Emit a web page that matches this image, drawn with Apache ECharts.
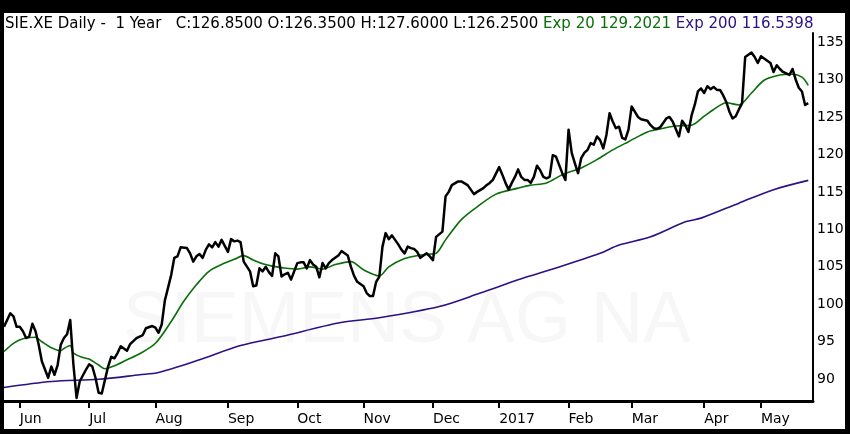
<!DOCTYPE html>
<html><head><meta charset="utf-8">
<script src="https://cdn.jsdelivr.net/npm/echarts@6/dist/echarts.min.js"></script>
<style>html,body{margin:0;padding:0;background:#000}#c{width:850px;height:434px}</style>
</head><body><div id="c"></div>
<script>
// trading-day index (0 = 25 May 2016) and daily closes
const priceDays = [0,2,3,4,5,6,7,8,9,10,11,12,14,15,16,17,18,19,20,21,22,23,24,26,27,28,29,30,31,32,33,34,35,36,37,39,40,42,44,45,47,48,49,50,51,52,53,54,55,56,58,59,60,61,62,63,64,65,66,67,68,69,70,71,72,73,74,75,76,78,79,80,81,82,83,84,85,86,87,88,89,90,91,93,94,95,96,97,98,99,100,101,102,103,104,105,106,107,108,109,110,111,112,114,115,116,117,118,119,120,121,122,123,124,125,126,127,128,129,130,131,132,133,134,135,136,137,139,140,141,142,144,145,147,148,149,150,152,153,154,155,157,158,159,160,161,162,163,164,165,166,167,168,169,170,171,172,173,174,175,176,177,178,179,180,181,182,183,184,185,186,187,188,189,190,191,192,193,194,195,196,197,198,199,200,201,202,203,204,205,206,207,208,210,211,212,213,214,215,216,217,218,219,220,221,222,223,224,225,226,227,228,229,230,231,232,233,234,235,236,237,238,239,240,241,242,243,244,245,246,247,248,249,250,251,252,253,254,255];
const priceVals = [97.0,98.8,98.4,97.0,97.0,96.4,95.5,95.7,97.4,96.4,94.6,92.4,90.2,91.7,90.6,91.9,94.6,95.5,96.0,97.9,92.0,87.5,89.7,91.3,92.0,91.7,90.2,88.2,88.1,89.9,91.7,93.0,92.8,93.5,94.4,93.8,94.7,95.5,95.9,96.8,97.1,96.9,96.2,97.3,100.5,102.2,103.9,106.2,106.4,107.6,107.5,106.8,105.7,106.4,106.7,106.2,107.3,108.0,107.6,108.3,107.7,108.6,107.8,107.0,108.7,108.4,108.5,108.3,105.7,104.4,102.4,102.5,104.8,104.4,105.0,104.3,103.8,106.8,106.4,103.7,104.0,104.2,103.3,105.5,105.6,105.6,104.8,105.9,105.3,105.0,103.6,105.5,104.8,105.5,105.9,106.2,106.5,107.1,106.8,106.5,105.0,103.8,103.0,102.4,101.5,101.1,101.1,103.0,103.7,107.7,109.5,108.7,109.2,108.6,108.0,107.3,106.8,107.7,107.5,107.4,107.0,106.2,106.5,106.8,106.4,105.9,109.0,109.7,114.4,115.0,115.9,116.4,116.4,115.9,115.3,114.7,115.0,115.5,115.9,116.2,116.6,118.3,117.3,116.2,115.3,116.2,117.0,118.0,117.0,116.6,116.6,116.2,117.0,118.5,117.9,117.0,116.8,117.0,119.9,119.7,118.6,117.5,116.6,123.3,120.2,118.8,117.5,119.5,120.2,120.6,121.5,121.3,122.4,121.9,120.8,122.6,125.5,124.4,123.5,123.7,122.2,122.0,123.3,126.4,125.7,125.0,124.7,124.6,124.5,123.9,123.5,123.4,123.6,124.8,125.0,124.4,123.4,122.4,124.5,123.9,123.0,125.2,126.6,128.4,128.8,128.2,129.1,128.7,129.0,128.6,128.6,127.9,127.0,125.7,124.8,125.1,126.0,126.8,133.0,133.3,133.6,133.0,132.2,133.1,132.8,132.5,132.2,131.0,131.9,131.4,131.0,130.8,130.6,131.4,130.0,128.9,128.4,126.6,126.85];

const ema20Days = [0,3,6,10,12,15,18,19,21,22,25,27,30,32,35,39,43,48,53,57,61,65,70,73,76,79,82,85,88,93,97,101,105,110,114,119,122,127,131,135,137,140,145,150,156,163,167,172,177,183,188,193,198,204,208,213,218,222,225,229,233,237,241,246,250,253,255];
const ema20Vals = [93.7,94.8,95.4,95.6,95.0,94.2,93.8,94.1,94.5,93.5,92.9,92.7,91.9,91.4,91.8,92.6,93.4,94.8,97.7,100.4,102.6,104.4,105.5,106.0,106.5,105.9,105.4,105.1,104.9,104.7,105.0,104.7,105.3,105.7,104.6,103.8,105.0,106.1,106.5,106.7,106.8,108.6,111.3,113.0,114.7,115.5,115.9,116.2,117.3,118.2,119.3,120.6,121.7,123.0,123.4,123.8,123.9,125.1,126.0,126.9,126.6,128.2,129.9,130.6,130.7,130.3,129.2021];

const ema200Days = [0,15,30,43,49,62,75,88,106,119,138,151,164,174,189,195,205,216,221,233,244,255];
const ema200Vals = [88.9,89.7,90.0,90.6,90.9,92.6,94.5,95.7,97.5,98.2,99.7,101.5,103.4,104.7,106.8,107.9,109.0,111.0,111.5,113.5,115.3,116.5398];

const monthTickDays = [5,27,48,71,93,114,136,157,179,199,222,240];
const monthLabels = ['Jun','Jul','Aug','Sep','Oct','Nov','Dec','2017','Feb','Mar','Apr','May'];
const yTickValues = [90,95,100,105,110,115,120,125,130,135];

const pairs = (d, v) => d.map((x, i) => [x, v[i]]);
const labelOf = {};
monthTickDays.forEach((d, i) => { labelOf[d] = monthLabels[i]; });

const chart = echarts.init(document.getElementById('c'), null, {renderer: 'canvas'});
const FONT = 'DejaVu Sans';
chart.setOption({
  animation: false,
  backgroundColor: '#000',
  graphic: [
    {type: 'rect', z: -100, shape: {x: 4, y: 13, width: 841, height: 416}, style: {fill: '#fff'}},
    {type: 'text', z: -50, x: 407, y: 358, style: {text: 'SIEMENS AG NA', fill: '#f7f7f7', font: '72px "Liberation Sans"', align: 'center', verticalAlign: 'bottom'}}
  ],
  title: {
    left: 5, top: 15, padding: 0,
    text: '{a|SIE.XE Daily -  1 Year   C:126.8500 O:126.3500 H:127.6000 L:126.2500} {g|Exp 20 129.2021} {p|Exp 200 116.5398}',
    textStyle: {
      fontFamily: FONT, fontSize: 15, fontWeight: 'normal', lineHeight: 18,
      rich: {
        a: {color: '#000', fontFamily: FONT, fontSize: 15, lineHeight: 18},
        g: {color: '#0a6e0a', fontFamily: FONT, fontSize: 15, lineHeight: 18},
        p: {color: '#2c1085', fontFamily: FONT, fontSize: 15, lineHeight: 18}
      }
    }
  },
  grid: {left: 4, right: 37, top: 33, bottom: 33, containLabel: false},
  xAxis: {
    type: 'value', min: 0, max: 256.5,
    axisLine: {show: true, onZero: false, lineStyle: {color: '#000', width: 3}},
    axisTick: {show: true, customValues: monthTickDays, length: 7, inside: false, lineStyle: {color: '#000', width: 2}},
    axisLabel: {show: true, customValues: monthTickDays, margin: 11, align: 'left', color: '#000', fontFamily: FONT, fontSize: 14,
      formatter: v => labelOf[Math.round(v)] || ''},
    splitLine: {show: false}
  },
  yAxis: {
    type: 'value', position: 'right', min: 87.1, max: 136.2,
    axisLine: {show: true, onZero: false, lineStyle: {color: '#000', width: 2}},
    axisTick: {show: false},
    axisLabel: {show: true, customValues: yTickValues, margin: 4, color: '#000', fontFamily: FONT, fontSize: 14},
    splitLine: {show: false}
  },
  series: [
    {type: 'line', data: pairs(ema200Days, ema200Vals), showSymbol: false, smooth: 0.3, lineStyle: {color: '#2c1085', width: 1.6}, z: 3},
    {type: 'line', data: pairs(ema20Days, ema20Vals), showSymbol: false, smooth: 0.3, lineStyle: {color: '#0a6e0a', width: 1.6}, z: 4},
    {type: 'line', data: pairs(priceDays, priceVals), showSymbol: false, lineStyle: {color: '#000', width: 2.5, join: 'round'}, z: 5}
  ]
});
</script></body></html>
